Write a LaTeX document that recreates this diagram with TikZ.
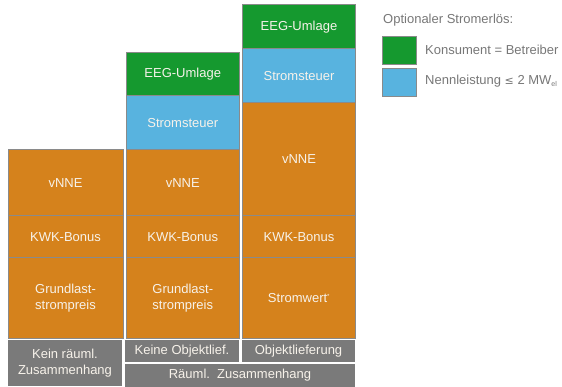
\documentclass[tikz,border=0pt]{standalone}
\usepackage{fontspec}
\setmainfont{Liberation Sans}
\newfontfamily\symfont{DejaVu Sans}
\definecolor{cOrange}{HTML}{D5821C}
\definecolor{cGreen}{HTML}{15992F}
\definecolor{cBlue}{HTML}{58B3DF}
\definecolor{cGray}{HTML}{7A7A7A}
\definecolor{cEdge}{HTML}{8A8A8A}
\definecolor{cText}{HTML}{F7F2EA}
\definecolor{cLegend}{HTML}{777777}
\tikzset{
  blk/.style={draw=cEdge, line width=1pt, outer sep=0pt, inner sep=0pt, anchor=north west,
    text=cText, align=center, font=\fontsize{13}{16.5}\selectfont},
  orng/.style={blk, fill=cOrange},
  grn/.style={blk, fill=cGreen},
  blu/.style={blk, fill=cBlue},
  gry/.style={fill=cGray, outer sep=0pt, inner sep=0pt, anchor=north west,
    text=cText, align=center, font=\fontsize{13}{16}\selectfont},
  legsq/.style={draw=cEdge, line width=0.7pt, outer sep=0pt, inner sep=0pt, anchor=north west,
    minimum width=34pt, minimum height=28pt},
  legtxt/.style={text=cLegend, anchor=west, inner sep=0pt, font=\fontsize{13}{16}\selectfont},
  sep/.style={draw=cEdge, line width=1pt}
}
\begin{document}
\begin{tikzpicture}[x=1pt,y=-1pt]
\useasboundingbox (0,0) rectangle (562,387);
% column 1
\node[orng, minimum width=115pt, minimum height=65.5pt] (c1v) at (8,150) {vNNE};
\node[orng, minimum width=115pt, minimum height=42.5pt] (c1k) at (8,215.5) {KWK-Bonus};
\node[orng, minimum width=115pt, minimum height=80pt] (c1g) at (8,258) {Grundlast-\\strompreis};
% column 2
\node[grn, minimum width=112.5pt, minimum height=43.5pt] (c2e) at (126.5,52.5) {EEG-Umlage};
\node[blu, minimum width=112.5pt, minimum height=54pt] (c2s) at (126.5,96) {Stromsteuer};
\node[orng, minimum width=112.5pt, minimum height=65.5pt] (c2v) at (126.5,150) {vNNE};
\node[orng, minimum width=112.5pt, minimum height=42.5pt] (c2k) at (126.5,215.5) {KWK-Bonus};
\node[orng, minimum width=112.5pt, minimum height=80pt] (c2g) at (126.5,258) {Grundlast-\\strompreis};
% column 3
\node[grn, minimum width=113pt, minimum height=44pt] (c3e) at (242.5,5) {EEG-Umlage};
\node[blu, minimum width=113pt, minimum height=53.5pt] (c3s) at (242.5,49) {Stromsteuer};
\node[orng, minimum width=113pt, minimum height=113pt] (c3v) at (242.5,102.5) {vNNE};
\node[orng, minimum width=113pt, minimum height=42.5pt] (c3k) at (242.5,215.5) {KWK-Bonus};
\node[orng, minimum width=113pt, minimum height=80pt] (c3g) at (242.5,258) {Stromwert\textsuperscript{\fontsize{6}{6}\selectfont *}};
% separators between vNNE and KWK-Bonus
\draw[sep] (c1k.north west) -- (c1k.north east);
\draw[sep] (c2k.north west) -- (c2k.north east);
\draw[sep] (c3k.north west) -- (c3k.north east);
% gray labels
\node[gry, minimum width=114pt, minimum height=46pt] (g1) at (8,340) {Kein räuml.\\Zusammenhang};
\node[gry, minimum width=114pt, minimum height=21.5pt] (g2) at (125,340) {Keine Objektlief.};
\node[gry, minimum width=113pt, minimum height=21.5pt] (g3) at (242,340) {Objektlieferung};
\node[gry, minimum width=230pt, minimum height=23pt] (g4) at (125,363.5) {Räuml.\ \ Zusammenhang};
% legend
\node[legtxt] (lt) at (383,20.5) {Optionaler Stromerlös:};
\node[legsq, fill=cGreen] (lg) at (382,36) {};
\node[legsq, fill=cBlue] (lb) at (382,68.5) {};
\node[legtxt] (lgt) at (425,50) {Konsument = Betreiber};
\node[legtxt] (lbt) at (425,81) {Nennleistung {\symfont\fontsize{11}{13}\selectfont ≤} 2 MW\raisebox{-0.35ex}{\fontsize{7}{8}\selectfont el}};
\end{tikzpicture}
\end{document}
